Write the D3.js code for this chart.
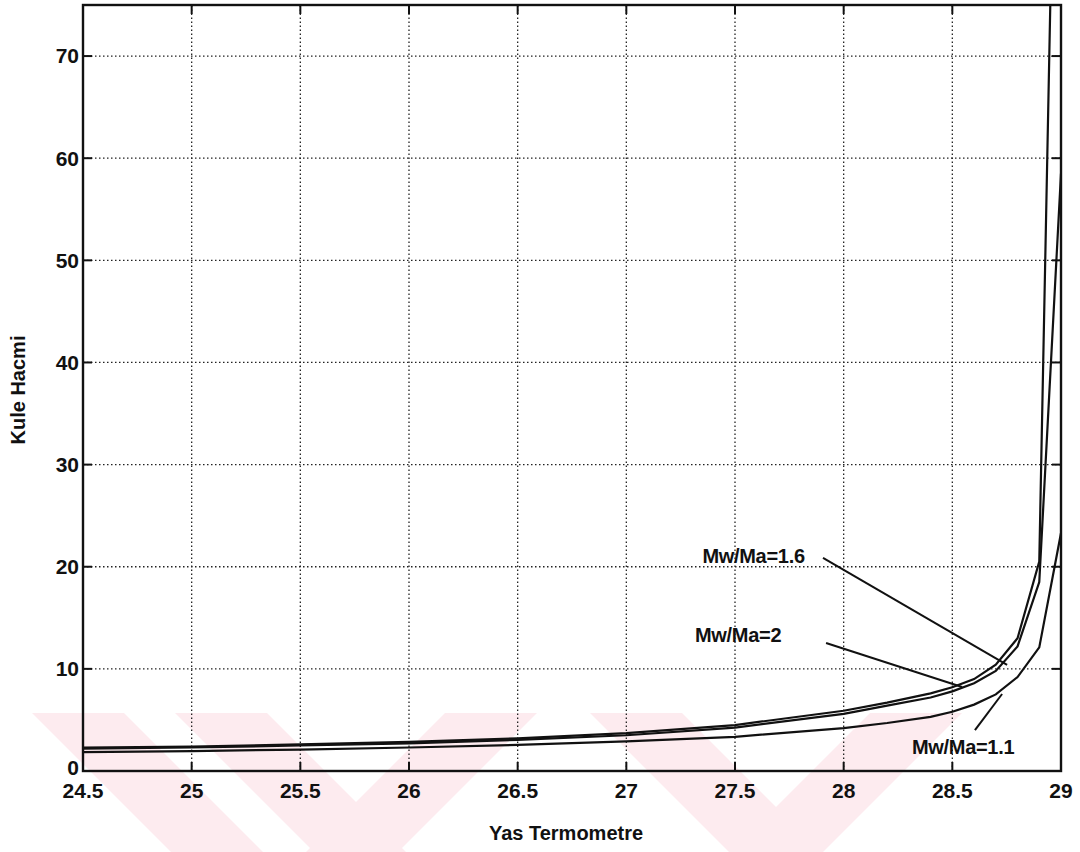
<!DOCTYPE html>
<html>
<head>
<meta charset="utf-8">
<script src="https://cdn.jsdelivr.net/npm/d3@7"></script>
<style>
  body { margin: 0; background: #fff; }
  text { font-family: "Liberation Sans", Arial, sans-serif; font-weight: bold; fill: #111; }
</style>
</head>
<body>
<div id="chart-area"></div>
<script>
const W = 1080, H = 852;
const margin = {top: 5, right: 19, bottom: 81, left: 83};

// wet bulb temperature (x) and tower volume for each Mw/Ma ratio
const wetBulb = [24.5, 25, 25.5, 26, 26.5, 27, 27.5, 28, 28.2, 28.4, 28.5, 28.6, 28.7, 28.8, 28.9, 29];
const ratio20 = [2.3, 2.4, 2.6, 2.85, 3.2, 3.7, 4.5, 5.9, 6.7, 7.6, 8.2, 9.0, 10.4, 13.0, 20.5, 128];
const ratio16 = [2.2, 2.3, 2.5, 2.7, 3.05, 3.5, 4.25, 5.6, 6.4, 7.2, 7.8, 8.6, 9.8, 12.2, 18.5, 58.5];
const ratio11 = [1.85, 1.95, 2.1, 2.3, 2.55, 2.9, 3.35, 4.2, 4.7, 5.3, 5.8, 6.5, 7.5, 9.2, 12.1, 23.3];

const xTicks = [24.5, 25, 25.5, 26, 26.5, 27, 27.5, 28, 28.5, 29];
const yTicks = [0, 10, 20, 30, 40, 50, 60, 70];

const series = [ratio20, ratio16, ratio11];

// labels with their pointer lines, in data units
const notes = [
  {text: "Mw/Ma=1.6", tx: 27.35, ty: 20.37, from: [27.905, 20.86], to: [28.752, 10.38]},
  {text: "Mw/Ma=2", tx: 27.316, ty: 12.63, from: [27.919, 12.53], to: [28.545, 8.22]},
  {text: "Mw/Ma=1.1", tx: 28.314, ty: 1.66, from: [28.604, 4.01], to: [28.729, 7.54]}
];

const width = W - margin.left - margin.right;
const plotH = 766;

const svg = d3.select("#chart-area")
  .append("svg")
  .attr("width", W)
  .attr("height", H);

// faint pink scan watermark along the bottom
const stripes = [[32, 1], [175, 1], [445, -1], [590, 1], [870, -1]];
svg.append("g").selectAll("polygon")
  .data(stripes)
  .enter()
  .append("polygon")
  .attr("points", ([x0, dir]) => {
    const t = 713, b = 852, w = 92, s = (b - t) * dir;
    return [[x0, t], [x0 + w, t], [x0 + w + s, b], [x0 + s, b]].join(" ");
  })
  .attr("fill", "#fdebef");

const x = d3.scaleLinear().domain([24.5, 29]).range([margin.left, margin.left + width]);
const y = d3.scaleLinear().domain([0, 75]).range([margin.top + plotH, margin.top]);

svg.append("clipPath").attr("id", "clip")
  .append("rect")
  .attr("x", x(24.5)).attr("y", y(75))
  .attr("width", x(29) - x(24.5)).attr("height", y(0) - y(75));

// grid
svg.selectAll(".x-grid")
  .data(xTicks.slice(1, -1))
  .enter()
  .append("line")
  .attr("class", "x-grid")
  .attr("x1", d => x(d)).attr("x2", d => x(d))
  .attr("y1", y(0)).attr("y2", y(75))
  .attr("stroke", "#222")
  .attr("stroke-width", 1.3)
  .attr("stroke-dasharray", "1.5,2.5");

svg.selectAll(".y-grid")
  .data(yTicks.slice(1))
  .enter()
  .append("line")
  .attr("class", "y-grid")
  .attr("x1", x(24.5)).attr("x2", x(29))
  .attr("y1", d => y(d)).attr("y2", d => y(d))
  .attr("stroke", "#222")
  .attr("stroke-width", 1.3)
  .attr("stroke-dasharray", "1.5,2.5");

// curves
const line = d3.line()
  .x((d, i) => x(wetBulb[i]))
  .y(d => y(d));

svg.append("g").attr("clip-path", "url(#clip)")
  .selectAll("path")
  .data(series)
  .enter()
  .append("path")
  .attr("d", d => line(d))
  .attr("fill", "none")
  .attr("stroke", "#111")
  .attr("stroke-width", 2.2);

// inward ticks on all four sides
const tickLen = 9;
const ticks = svg.append("g").attr("stroke", "#111").attr("stroke-width", 2);
xTicks.forEach(d => {
  ticks.append("line").attr("x1", x(d)).attr("x2", x(d)).attr("y1", y(0)).attr("y2", y(0) - tickLen);
  ticks.append("line").attr("x1", x(d)).attr("x2", x(d)).attr("y1", y(75)).attr("y2", y(75) + tickLen);
});
yTicks.forEach(d => {
  ticks.append("line").attr("x1", x(24.5)).attr("x2", x(24.5) + tickLen).attr("y1", y(d)).attr("y2", y(d));
  ticks.append("line").attr("x1", x(29)).attr("x2", x(29) - tickLen).attr("y1", y(d)).attr("y2", y(d));
});

// frame
svg.append("rect")
  .attr("x", x(24.5)).attr("y", y(75))
  .attr("width", x(29) - x(24.5)).attr("height", y(0) - y(75))
  .attr("fill", "none")
  .attr("stroke", "#111")
  .attr("stroke-width", 2.4);

// tick labels
svg.append("g").selectAll("text")
  .data(xTicks)
  .enter()
  .append("text")
  .attr("x", d => x(d))
  .attr("y", y(0) + 27)
  .attr("text-anchor", "middle")
  .style("font-size", "21px")
  .text(d => d);

svg.append("g").selectAll("text")
  .data(yTicks)
  .enter()
  .append("text")
  .attr("x", x(24.5) - 4)
  .attr("y", d => d === 0 ? y(d) - 3 : y(d))
  .attr("dy", "0.35em")
  .attr("text-anchor", "end")
  .style("font-size", "21px")
  .text(d => d);

// axis titles
svg.append("text")
  .attr("x", 566)
  .attr("y", 840)
  .attr("text-anchor", "middle")
  .style("font-size", "20px")
  .text("Yas Termometre");

svg.append("text")
  .attr("transform", "rotate(-90)")
  .attr("x", -390)
  .attr("y", 25)
  .attr("text-anchor", "middle")
  .style("font-size", "20px")
  .text("Kule Hacmi");

// curve labels
notes.forEach(n => {
  svg.append("line")
    .attr("x1", x(n.from[0])).attr("y1", y(n.from[1]))
    .attr("x2", x(n.to[0])).attr("y2", y(n.to[1]))
    .attr("stroke", "#111")
    .attr("stroke-width", 2);
  svg.append("text")
    .attr("x", x(n.tx)).attr("y", y(n.ty))
    .style("font-size", "20px")
    .style("letter-spacing", "-0.3px")
    .text(n.text);
});
</script>
</body>
</html>
